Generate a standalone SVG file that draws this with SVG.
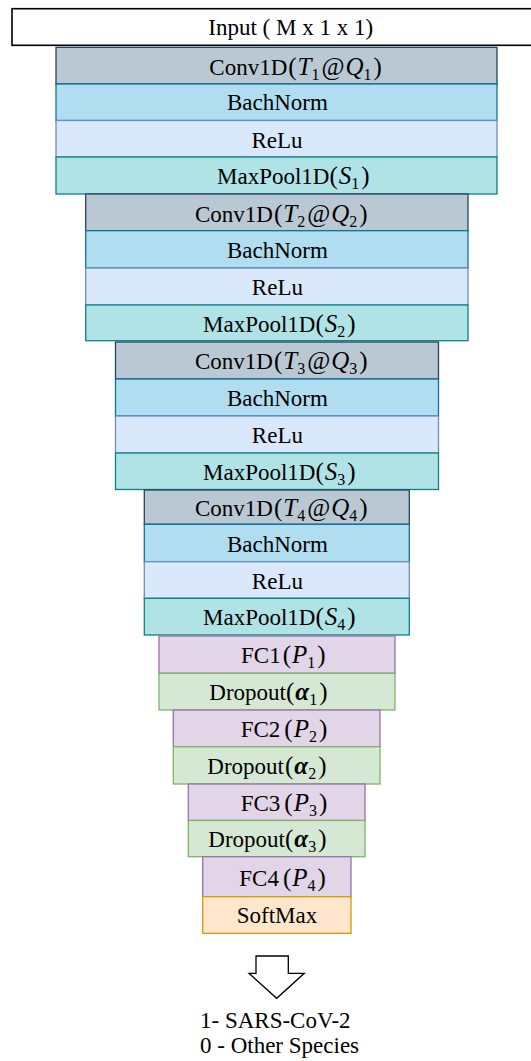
<svg xmlns="http://www.w3.org/2000/svg" width="531" height="1061" viewBox="0 0 531 1061">
<style>
text{font-family:"Liberation Serif","Times New Roman",serif;font-size:23px;fill:#000}
.m{text-anchor:middle}
.p{font-size:25px}
.i{font-style:italic;font-size:25px}
.b{font-weight:bold;font-style:italic;font-size:25px}
.s{font-size:16px}
.conv{fill:#BAC8D3;stroke:#23445D;stroke-width:1.3}
.bn{fill:#B1DDF0;stroke:#10739E;stroke-width:1.3}
.relu{fill:#DAE8FC;stroke:#6C8EBF;stroke-width:1.3}
.mp{fill:#B0E3E6;stroke:#0E8088;stroke-width:1.3}
.fc{fill:#E1D5E7;stroke:#9673A6;stroke-width:1.3}
.dp{fill:#D5E8D4;stroke:#82B366;stroke-width:1.3}
.sm{fill:#FFE6CC;stroke:#D79B00;stroke-width:1.3}
</style>
<rect width="531" height="1061" fill="#fff"/>
<g id="input"><rect x="12" y="8.7" width="560" height="36.6" fill="#fff" stroke="#000" stroke-width="1.6"/><text x="208.3" y="35">Input ( M x 1 x 1)</text></g>

<g id="conv1"><rect class="conv" x="56" y="47.3" width="441" height="36.7"/><text x="209.3" y="75">Conv1D<tspan class="p" dx="1">(</tspan><tspan class="i" dx="1">T</tspan><tspan class="s" dy="5">1</tspan><tspan class="p" dy="-5" dx="2">@</tspan><tspan class="i" dx="1">Q</tspan><tspan class="s" dy="5">1</tspan><tspan class="p" dy="-5" dx="2">)</tspan></text></g>
<g id="bn1"><rect class="bn" x="56" y="84" width="441" height="36.5"/><text class="m" x="277.4" y="110">BachNorm</text></g>
<g id="relu1"><rect class="relu" x="56" y="120.5" width="441" height="36.5"/><text class="m" x="277" y="147.5">ReLu</text></g>
<g id="mp1"><rect class="mp" x="56" y="157" width="441" height="37"/><text x="217" y="184">MaxPool1D<tspan class="p">(</tspan><tspan class="i" dx="1">S</tspan><tspan class="s" dy="5">1</tspan><tspan class="p" dy="-5" dx="2">)</tspan></text></g>

<g id="conv2"><rect class="conv" x="85.7" y="194" width="382.3" height="36.7"/><text x="195" y="221.5">Conv1D<tspan class="p" dx="1">(</tspan><tspan class="i" dx="1">T</tspan><tspan class="s" dy="5">2</tspan><tspan class="p" dy="-5" dx="2">@</tspan><tspan class="i" dx="1">Q</tspan><tspan class="s" dy="5">2</tspan><tspan class="p" dy="-5" dx="2">)</tspan></text></g>
<g id="bn2"><rect class="bn" x="85.7" y="230.7" width="382.3" height="37.3"/><text class="m" x="277.4" y="257.5">BachNorm</text></g>
<g id="relu2"><rect class="relu" x="85.7" y="268" width="382.3" height="37"/><text class="m" x="277.4" y="294.5">ReLu</text></g>
<g id="mp2"><rect class="mp" x="85.7" y="305" width="382.3" height="35.7"/><text x="203" y="331.5">MaxPool1D<tspan class="p">(</tspan><tspan class="i" dx="1">S</tspan><tspan class="s" dy="5">2</tspan><tspan class="p" dy="-5" dx="2">)</tspan></text></g>

<g id="conv3"><rect class="conv" x="115.5" y="342" width="323" height="37"/><text x="195" y="369">Conv1D<tspan class="p" dx="1">(</tspan><tspan class="i" dx="1">T</tspan><tspan class="s" dy="5">3</tspan><tspan class="p" dy="-5" dx="2">@</tspan><tspan class="i" dx="1">Q</tspan><tspan class="s" dy="5">3</tspan><tspan class="p" dy="-5" dx="2">)</tspan></text></g>
<g id="bn3"><rect class="bn" x="115.5" y="379" width="323" height="37"/><text class="m" x="277.4" y="406">BachNorm</text></g>
<g id="relu3"><rect class="relu" x="115.5" y="416" width="323" height="37"/><text class="m" x="277.4" y="443">ReLu</text></g>
<g id="mp3"><rect class="mp" x="115.5" y="453" width="323" height="36.5"/><text x="203" y="480">MaxPool1D<tspan class="p">(</tspan><tspan class="i" dx="1">S</tspan><tspan class="s" dy="5">3</tspan><tspan class="p" dy="-5" dx="2">)</tspan></text></g>

<g id="conv4"><rect class="conv" x="144.3" y="490" width="265" height="34.3"/><text x="195" y="516">Conv1D<tspan class="p" dx="1">(</tspan><tspan class="i" dx="1">T</tspan><tspan class="s" dy="5">4</tspan><tspan class="p" dy="-5" dx="2">@</tspan><tspan class="i" dx="1">Q</tspan><tspan class="s" dy="5">4</tspan><tspan class="p" dy="-5" dx="2">)</tspan></text></g>
<g id="bn4"><rect class="bn" x="144.3" y="524.3" width="265" height="37.4"/><text class="m" x="277.4" y="551.5">BachNorm</text></g>
<g id="relu4"><rect class="relu" x="144.3" y="561.7" width="265" height="36.6"/><text class="m" x="277.4" y="588.5">ReLu</text></g>
<g id="mp4"><rect class="mp" x="144.3" y="598.3" width="265" height="36.7"/><text x="203" y="625">MaxPool1D<tspan class="p">(</tspan><tspan class="i" dx="1">S</tspan><tspan class="s" dy="5">4</tspan><tspan class="p" dy="-5" dx="2">)</tspan></text></g>

<g id="fc1"><rect class="fc" x="159" y="636" width="236" height="37.3"/><text x="241" y="663">FC1<tspan class="p" dx="2">(</tspan><tspan class="i" dx="1">P</tspan><tspan class="s" dy="5">1</tspan><tspan class="p" dy="-5" dx="2">)</tspan></text></g>
<g id="dropout1"><rect class="dp" x="159" y="673.3" width="236" height="36.7"/><text x="209.3" y="700">Dropout<tspan class="p">(</tspan><tspan class="b" dx="1">α</tspan><tspan class="s" dy="5">1</tspan><tspan class="p" dy="-5" dx="2">)</tspan></text></g>

<g id="fc2"><rect class="fc" x="173.3" y="710" width="206.7" height="36.7"/><text x="240.7" y="737">FC2<tspan class="p" dx="4">(</tspan><tspan class="i" dx="1">P</tspan><tspan class="s" dy="5">2</tspan><tspan class="p" dy="-5" dx="2">)</tspan></text></g>
<g id="dropout2"><rect class="dp" x="173.3" y="746.7" width="206.7" height="37.3"/><text x="207.3" y="774">Dropout<tspan class="p" dx="1">(</tspan><tspan class="b" dx="1">α</tspan><tspan class="s" dy="5">2</tspan><tspan class="p" dy="-5" dx="2">)</tspan></text></g>

<g id="fc3"><rect class="fc" x="188.3" y="784" width="176.7" height="36.5"/><text x="240.7" y="811">FC3<tspan class="p" dx="4">(</tspan><tspan class="i" dx="1">P</tspan><tspan class="s" dy="5">3</tspan><tspan class="p" dy="-5" dx="2">)</tspan></text></g>
<g id="dropout3"><rect class="dp" x="188.3" y="820.5" width="176.7" height="36.2"/><text x="208.3" y="847">Dropout<tspan class="p">(</tspan><tspan class="b" dx="1">α</tspan><tspan class="s" dy="5">3</tspan><tspan class="p" dy="-5" dx="2">)</tspan></text></g>

<g id="fc4"><rect class="fc" x="202.7" y="856.7" width="148.3" height="40"/><text x="239.3" y="886">FC4<tspan class="p" dx="4">(</tspan><tspan class="i" dx="1">P</tspan><tspan class="s" dy="5">4</tspan><tspan class="p" dy="-5" dx="2">)</tspan></text></g>
<g id="softmax"><rect class="sm" x="202.7" y="896.7" width="148.3" height="36.6"/><text class="m" x="277" y="923">SoftMax</text></g>

<g id="connectors"><polygon points="256,956 288.3,956 288.3,973.3 304.3,973.3 276.7,998.3 249,973.3 256,973.3" fill="#fff" stroke="#000" stroke-width="1.3"/></g>

<g id="output"><text x="200" y="1028">1- SARS-CoV-2</text><text x="200" y="1053">0 - Other Species</text></g>
</svg>
